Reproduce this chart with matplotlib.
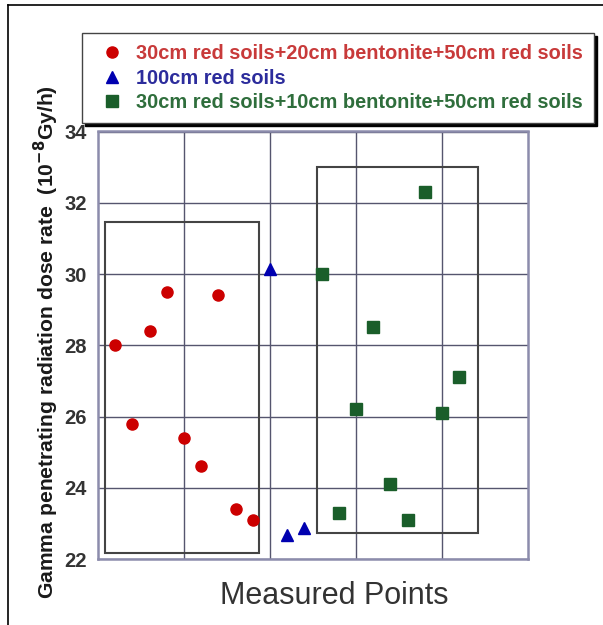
import matplotlib.pyplot as plt
from matplotlib.patches import Rectangle
from matplotlib.lines import Line2D

plt.rcParams["font.family"] = ["Liberation Sans", "DejaVu Sans"]

# measured point index along the x axis (no tick labels in the original)
red_x = [1, 2, 3, 4, 5, 6, 7, 8, 9]
red_y = [28.0, 25.8, 28.4, 29.5, 25.4, 24.6, 29.4, 23.4, 23.1]
blue_x = [10, 11, 12]
blue_y = [30.15, 22.67, 22.86]
green_x = [13, 14, 15, 16, 17, 18, 19, 20, 21]
green_y = [30.0, 23.3, 26.2, 28.5, 24.1, 23.1, 32.3, 26.1, 27.1]

labels = [
    "30cm red soils+20cm bentonite+50cm red soils",
    "100cm red soils",
    "30cm red soils+10cm bentonite+50cm red soils",
]
label_colors = ["#c83a3a", "#2c2c9c", "#2f6e3c"]

# grouping boxes (x0, y0, x1, y1) in data units
boxes = [(0.4, 22.16, 9.38, 31.46), (12.75, 22.74, 22.07, 33.0)]

W, H = 603, 625
fig = plt.figure(figsize=(W / 100, H / 100), dpi=100)
ax = fig.add_axes([98 / W, 1 - 559 / H, 430 / W, 427.5 / H])

ax.set_xlim(0, 25)
ax.set_ylim(22, 34)
ax.set_xticks([5, 10, 15, 20])
ax.set_xticklabels([])
ax.set_yticks([22, 24, 26, 28, 30, 32, 34])
ax.tick_params(axis="x", length=0)
ax.tick_params(axis="y", length=0, pad=8, labelsize=14.5, labelcolor="#333333")
for t in ax.get_yticklabels():
    t.set_fontweight("bold")
ax.grid(True, color="#55556e", linewidth=1.0)
for s in ax.spines.values():
    s.set_color("#8c8cac")
    s.set_linewidth(1.8)

for x0, y0, x1, y1 in boxes:
    ax.add_patch(Rectangle((x0, y0), x1 - x0, y1 - y0, fill=False,
                           edgecolor="#444444", linewidth=1.5, zorder=3))

h1, = ax.plot(red_x, red_y, "o", color="#cc0000", markersize=8, linestyle="none", zorder=4)
h2, = ax.plot(blue_x, blue_y, "^", color="#0000b0", markersize=8.5, linestyle="none", zorder=4)
h3, = ax.plot(green_x, green_y, "s", color="#1a5e2a", markersize=8, linestyle="none", zorder=4)

leg = fig.legend([h1, h2, h3], labels, loc="upper left",
                 bbox_to_anchor=(82 / W, 1 - 33 / H), borderaxespad=0,
                 fancybox=False, edgecolor="#444444", framealpha=1,
                 shadow={"color": "black", "alpha": 1},
                 prop={"size": 14.4, "weight": "bold"},
                 handletextpad=0.3, labelspacing=0.28, borderpad=0.55,
                 handlelength=1.85)
for txt, c in zip(leg.get_texts(), label_colors):
    txt.set_color(c)

fig.text(46 / W, 1 - 342 / H,
         "Gamma penetrating radiation dose rate  (10$^{\\mathbf{-8}}$Gy/h)",
         rotation=90, ha="center", va="center", fontsize=15.2,
         fontweight="bold", color="#1a1a1a")
fig.text(334 / W, 1 - 596 / H, "Measured Points", ha="center", va="center",
         fontsize=22, color="#333333")

# outer frame (left and top edges visible)
fig.add_artist(Line2D([8 / W, 8 / W], [0, 1 - 5 / H], color="black", linewidth=1.2))
fig.add_artist(Line2D([8 / W, 1], [1 - 5 / H, 1 - 5 / H], color="black", linewidth=1.2))

fig.savefig("out.png", dpi=100)
